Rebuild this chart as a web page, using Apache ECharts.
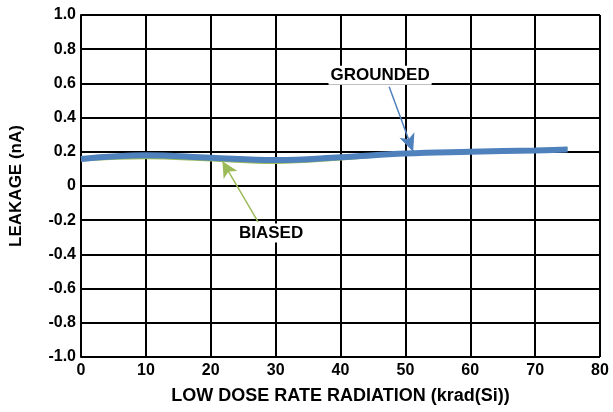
<!DOCTYPE html>
<html>
<head>
<meta charset="utf-8">
<script src="https://cdn.jsdelivr.net/npm/echarts@6/dist/echarts.min.js"></script>
<style>
  html, body { margin: 0; padding: 0; background: #fff; }
  #chart { width: 613px; height: 412px; }
</style>
</head>
<body>
<div id="chart"></div>
<script>
// dose points (krad(Si))
const dose = [0, 10, 20, 30, 40, 50, 60, 70, 75];
// leakage (nA)
const grounded = [0.158, 0.18, 0.165, 0.152, 0.168, 0.19, 0.2, 0.208, 0.213];
const biased = [0.152, 0.165, 0.152, 0.138, 0.158, 0.188, 0.203, 0.213, 0.22];

// annotation anchors in data units
const groundedLabel = [46.1, 0.647];
const groundedArrow = [[47.5, 0.58], [51.2, 0.2]];
const biasedLabel = [29.3, -0.275];
const biasedArrow = [[27.3, -0.21], [21.8, 0.145]];

const blue = '#4f81bd';
const green = '#9bbb59';
const font = 'Liberation Sans, Arial, sans-serif';

function pairs(xs, ys) {
  return xs.map((x, i) => [x, ys[i]]);
}

const chart = echarts.init(document.getElementById('chart'));
chart.setOption({
  animation: false,
  grid: { left: 79, right: 13, top: 15, bottom: 55 },
  xAxis: {
    type: 'value',
    min: 0, max: 80, interval: 10,
    name: 'LOW DOSE RATE RADIATION (krad(Si))',
    nameLocation: 'middle',
    nameGap: 30,
    nameTextStyle: { fontFamily: font, fontWeight: 'bold', fontSize: 18, color: '#000' },
    axisLine: { lineStyle: { color: '#000', width: 2 } },
    axisTick: { show: false },
    axisLabel: { fontFamily: font, fontWeight: 'bold', fontSize: 16, color: '#000', margin: 6 },
    splitLine: { lineStyle: { color: '#000', width: 2 } }
  },
  yAxis: {
    type: 'value',
    min: -1, max: 1, interval: 0.2,
    name: 'LEAKAGE (nA)',
    nameLocation: 'middle',
    nameGap: 56,
    nameTextStyle: { fontFamily: font, fontWeight: 'bold', fontSize: 17, color: '#000' },
    axisLine: { show: true, lineStyle: { color: '#000', width: 2 } },
    axisTick: { show: false },
    axisLabel: {
      fontFamily: font, fontWeight: 'bold', fontSize: 16, color: '#000', margin: 5,
      formatter: v => Math.abs(v) < 1e-9 ? '0' : v.toFixed(1)
    },
    splitLine: { lineStyle: { color: '#000', width: 2 } }
  },
  series: [
    {
      name: 'BIASED',
      type: 'line',
      smooth: 0.4,
      symbol: 'none',
      data: pairs(dose, biased),
      lineStyle: { color: green, width: 3 },
      z: 3,
      markLine: {
        silent: true,
        symbol: ['none', 'arrow'],
        symbolSize: [12, 16],
        label: { show: false },
        lineStyle: { color: green, width: 1.5, type: 'solid' },
        data: [[{ coord: biasedArrow[0] }, { coord: biasedArrow[1] }]]
      },
      markPoint: {
        silent: true,
        symbol: 'rect',
        symbolSize: 0,
        label: {
          show: true, position: 'inside', formatter: 'BIASED',
          fontFamily: font, fontWeight: 'bold', fontSize: 17, color: '#000',
          backgroundColor: '#fff', padding: [1, 2]
        },
        data: [{ coord: biasedLabel }]
      }
    },
    {
      name: 'GROUNDED',
      type: 'line',
      smooth: 0.4,
      symbol: 'none',
      data: pairs(dose, grounded),
      lineStyle: { color: blue, width: 6 },
      z: 4,
      markLine: {
        silent: true,
        symbol: ['none', 'arrow'],
        symbolSize: [12, 18],
        label: { show: false },
        lineStyle: { color: blue, width: 1.5, type: 'solid' },
        data: [[{ coord: groundedArrow[0] }, { coord: groundedArrow[1] }]]
      },
      markPoint: {
        silent: true,
        symbol: 'rect',
        symbolSize: 0,
        label: {
          show: true, position: 'inside', formatter: 'GROUNDED',
          fontFamily: font, fontWeight: 'bold', fontSize: 17, color: '#000',
          backgroundColor: '#fff', padding: [1, 2]
        },
        data: [{ coord: groundedLabel }]
      }
    }
  ]
});
</script>
</body>
</html>
